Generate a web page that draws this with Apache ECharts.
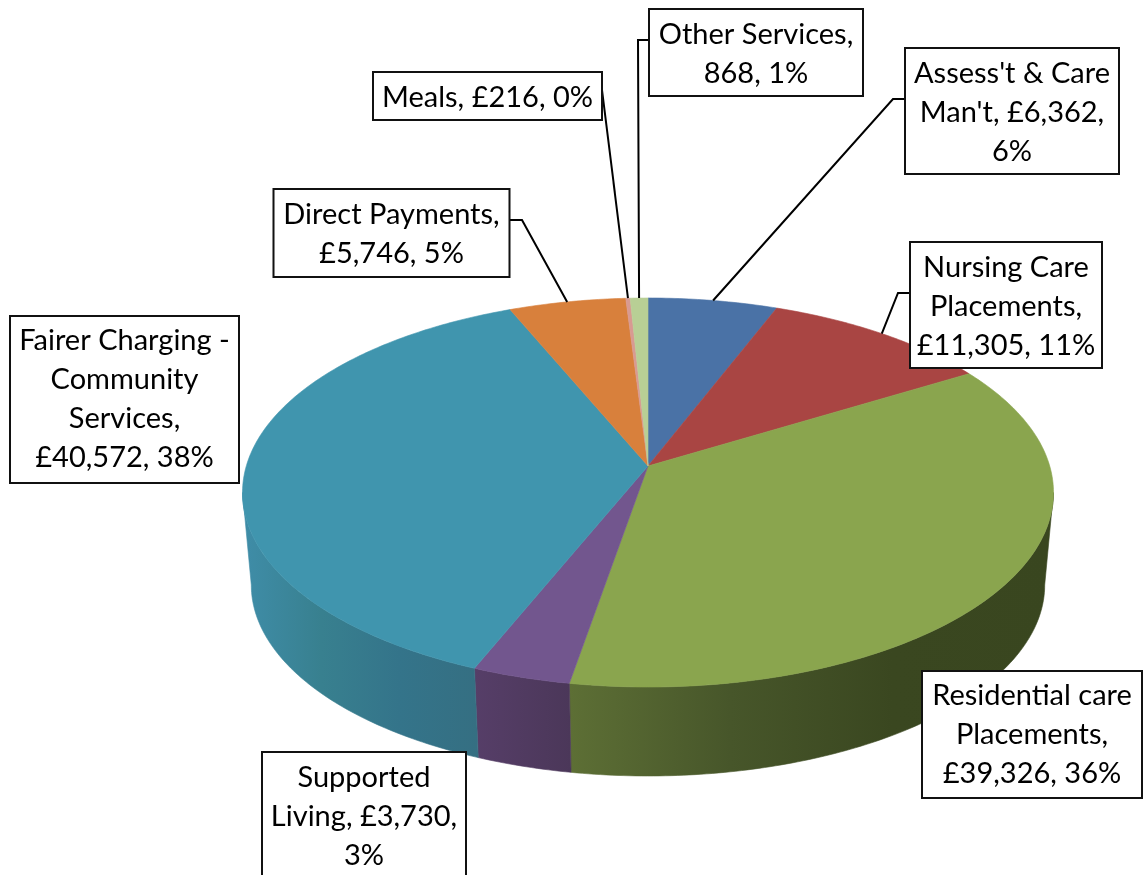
<!DOCTYPE html>
<html>
<head>
<meta charset="utf-8">
<style>html,body{margin:0;padding:0;background:#fff}#c{width:1144px;height:875px}</style>
<script src="https://cdn.jsdelivr.net/npm/echarts@6/dist/echarts.min.js"></script>
</head>
<body>
<div id="c"></div>
<script>
// ---- data ----
var categories = ["Assess't & Care Man't", "Nursing Care Placements", "Residential care Placements", "Supported Living", "Fairer Charging - Community Services", "Direct Payments", "Meals", "Other Services"];
var values = [6362, 11305, 39326, 3730, 40572, 5746, 216, 868];
var labelTexts = [
  "Assess't & Care\nMan't, £6,362,\n6%",
  "Nursing Care\nPlacements,\n£11,305, 11%",
  "Residential care\nPlacements,\n£39,326, 36%",
  "Supported\nLiving, £3,730,\n3%",
  "Fairer Charging -\nCommunity\nServices,\n£40,572, 38%",
  "Direct Payments,\n£5,746, 5%",
  "Meals, £216, 0%",
  "Other Services,\n868, 1%"
];
// ---- style ----
var topColors = ['#4a72a6', '#a94543', '#8aa54e', '#72568e', '#4095ae', '#d8803c', '#d89a92', '#b8cf95'];
var wallStops = [
  ['#37557c', '#37557c'], ['#7d3331', '#7d3331'],
  ['#5d6f35', '#47562a', '#3a4720', '#39461f'],
  ['#563e68', '#4b3759'],
  ['#3f8da8', '#38808f', '#34748a', '#356f82'],
  ['#a0602d', '#a0602d'], ['#a07068', '#a07068'], ['#889a6e', '#889a6e']
];
// ---- layout ----
var CX = 648;
var PERSP = 0.1363;
var topRim = {y: 466, a: 401.7, b: 190.9};
var baseRim = {y: 559, a: 393, b: 187.4};
var FONT_SIZE = 29, LINE_H = 39;
// box [left, top, right, bottom], text shift, elbow points between box and the slice rim
var labelBoxes = [
  {box: [905, 48, 1119, 174], dy: 1.5, leader: [[905, 99], [893, 99]]},
  {box: [910, 242, 1102, 368], dy: 1.5, leader: [[910, 293], [898, 293]]},
  {box: [922, 671, 1142, 798], dy: 0.5, leader: null},
  {box: [262, 752, 466, 878], dy: 1.5, leader: null},
  {box: [10, 316, 239, 483], dy: -0.5, leader: null},
  {box: [273.5, 189, 509.5, 277], dy: 1, leader: [[509.5, 220], [522, 220]]},
  {box: [373, 72, 602, 120], dy: 1.5, leader: [[602, 90]]},
  {box: [649, 9, 863, 96], dy: 1.5, leader: [[649, 40], [638, 40]]}
];

var total = values.reduce(function (s, v) { return s + v; }, 0);
var starts = [];
values.reduce(function (s, v, i) { starts[i] = s; return s + v; }, 0);
function toAngle(v) { return v / total * Math.PI * 2; }
function rimPoint(theta, rim) {
  var u = Math.sin(theta), v = -Math.cos(theta), d = 1 - PERSP * v;
  return [CX + rim.a * u / d, rim.y + rim.b * v / d];
}
function samples(t0, t1) {
  var n = Math.max(2, Math.ceil((t1 - t0) / (Math.PI / 240))), out = [];
  for (var i = 0; i <= n; i++) out.push(t0 + (t1 - t0) * i / n);
  return out;
}
// the wall is visible between the two silhouette tangents of the tilted disc
var TANGENT = Math.acos(-PERSP);

function renderWall(params, api) {
  var i = params.dataIndex;
  var t0 = Math.max(toAngle(starts[i]), TANGENT);
  var t1 = Math.min(toAngle(starts[i] + api.value(0)), Math.PI * 2 - TANGENT);
  if (t1 <= t0) return {type: 'group', children: []};
  var ts = samples(t0, t1);
  var upper = ts.map(function (t) { return rimPoint(t, topRim); });
  var lower = ts.map(function (t) { return rimPoint(t, baseRim); }).reverse();
  var pts = upper.concat(lower);
  var stops = wallStops[i].map(function (c, k, arr) { return {offset: k / (arr.length - 1), color: c}; });
  var xs = pts.map(function (p) { return p[0]; });
  var x0 = Math.min.apply(null, xs), x1 = Math.max.apply(null, xs);
  var fill = new echarts.graphic.LinearGradient(x0, 0, x1, 0, stops, true);
  return {type: 'polygon', shape: {points: pts}, style: {fill: fill, stroke: fill, lineWidth: 0.6}};
}
function renderTop(params, api) {
  var i = params.dataIndex;
  var t0 = toAngle(starts[i]), t1 = toAngle(starts[i] + api.value(0));
  var pts = [[CX, topRim.y]].concat(samples(t0, t1).map(function (t) { return rimPoint(t, topRim); }));
  return {type: 'polygon', shape: {points: pts}, style: {fill: topColors[i], stroke: topColors[i], lineWidth: 0.6}};
}
function renderLabel(params, api) {
  var i = params.dataIndex, L = labelBoxes[i], b = L.box, kids = [];
  if (L.leader) {
    var mid = toAngle(starts[i] + api.value(0) / 2);
    kids.push({type: 'polyline', shape: {points: L.leader.concat([rimPoint(mid, topRim)])},
      style: {fill: null, stroke: '#000', lineWidth: 2}});
  }
  kids.push({type: 'rect', shape: {x: b[0], y: b[1], width: b[2] - b[0], height: b[3] - b[1]},
    style: {fill: '#fff', stroke: '#111', lineWidth: 2}});
  kids.push({type: 'text', style: {
    x: (b[0] + b[2]) / 2, y: (b[1] + b[3]) / 2 + L.dy, text: labelTexts[i], align: 'center', verticalAlign: 'middle',
    fontFamily: 'Lato', fontSize: FONT_SIZE, lineHeight: LINE_H, fill: '#000'}});
  return {type: 'group', children: kids};
}

var seriesData = values.map(function (v, i) { return {name: categories[i], value: [v]}; });
function mk(fn, z) {
  return {type: 'custom', coordinateSystem: 'none', renderItem: fn, data: seriesData, z: z, silent: true, animation: false, clip: false};
}
var chart = echarts.init(document.getElementById('c'), null, {renderer: 'canvas'});
chart.setOption({
  backgroundColor: '#fff',
  animation: false,
  series: [mk(renderWall, 1), mk(renderTop, 2), mk(renderLabel, 3)]
});
</script>
</body>
</html>
